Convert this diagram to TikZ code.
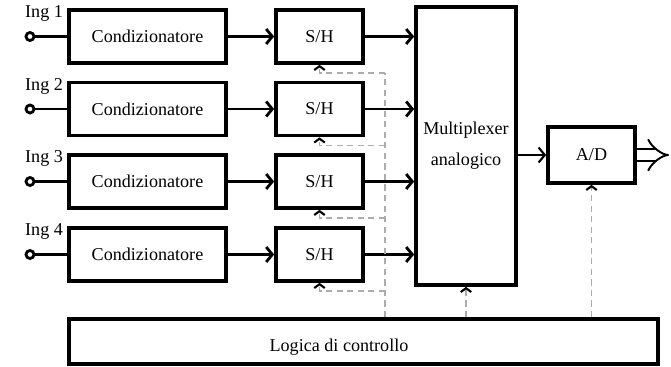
\documentclass[tikz,border=0pt]{standalone}
\usepackage{fontspec}
\setmainfont{Liberation Serif}
\usetikzlibrary{positioning,arrows.meta}

\begin{document}
\begin{tikzpicture}[
    >={Straight Barb[length=3.5pt,width=8.5pt]},
    every node/.style={font=\fontsize{10.3}{12}\selectfont},
    blk/.style={draw, line width=2.1pt, inner sep=0pt},
    cond/.style={blk, minimum width=3.14cm, minimum height=1.06cm},
    sh/.style={blk, minimum width=1.74cm, minimum height=1.06cm},
    sig/.style={->, line width=1.6pt},
    ctrl/.style={gray!65, line width=0.7pt, dash pattern=on 3.5pt off 2.5pt},
    ctrlarrow/.style={ctrl, -{Straight Barb[length=2.2pt,width=6pt,line width=1.2pt,black]}},
    pin/.style={circle, draw, line width=1.6pt, minimum size=0.16cm, inner sep=0pt}
]
\useasboundingbox (0,0) rectangle (13.42,7.32);

% row 1
\node[cond] (c1) at (2.95,6.59) {Condizionatore};
\node[sh] (s1) at (6.39,6.59) {S/H};
\node[pin] (p1) at (0.6,6.59) {};
\node[anchor=west] (l1) at (0.38,7.05) {Ing 1};
\draw[line width=1.6pt] (p1) -- (c1);
\draw[sig] (c1) -- (s1);

% row 2
\node[cond] (c2) at (2.95,5.14) {Condizionatore};
\node[sh] (s2) at (6.39,5.14) {S/H};
\node[pin] (p2) at (0.6,5.14) {};
\node[anchor=west] (l2) at (0.38,5.60) {Ing 2};
\draw[line width=1.6pt] (p2) -- (c2);
\draw[sig] (c2) -- (s2);

% row 3
\node[cond] (c3) at (2.95,3.69) {Condizionatore};
\node[sh] (s3) at (6.39,3.69) {S/H};
\node[pin] (p3) at (0.6,3.69) {};
\node[anchor=west] (l3) at (0.38,4.15) {Ing 3};
\draw[line width=1.6pt] (p3) -- (c3);
\draw[sig] (c3) -- (s3);

% row 4
\node[cond] (c4) at (2.95,2.23) {Condizionatore};
\node[sh] (s4) at (6.39,2.23) {S/H};
\node[pin] (p4) at (0.6,2.23) {};
\node[anchor=west] (l4) at (0.38,2.69) {Ing 4};
\draw[line width=1.6pt] (p4) -- (c4);
\draw[sig] (c4) -- (s4);

% multiplexer and converter
\node[blk, minimum width=2cm, minimum height=5.56cm, align=center,
      font=\fontsize{10.3}{17.6}\selectfont] (mux) at (9.32,4.4) {Multiplexer\\analogico};
\draw[sig] (s1) -- (s1 -| mux.west);
\draw[sig] (s2) -- (s2 -| mux.west);
\draw[sig] (s3) -- (s3 -| mux.west);
\draw[sig] (s4) -- (s4 -| mux.west);

\node[blk, minimum width=1.74cm, minimum height=1.12cm] (ad) at (11.83,4.22) {A/D};
\draw[->, line width=1.2pt] (mux.east |- ad) -- (ad);
\coordinate (out) at (13.38,4.22);
\draw[double, line width=1.1pt, double distance=5.5pt,
      -{Implies[length=7pt,width=16pt]}] (ad) -- (out);

% control logic
\node[blk, minimum width=11.78cm, minimum height=0.9cm] (logic) at (7.27,0.49) {};
\node (lt) at (6.78,0.38) {Logica di controllo};

\coordinate (k1) at (7.7,5.86);
\coordinate (k2) at (7.7,4.41);
\coordinate (k3) at (7.7,2.96);
\coordinate (k4) at (7.7,1.50);
\draw[ctrl] (logic.north -| k1) -- (k1);
\draw[ctrlarrow] (k1) -| (s1.south);
\draw[ctrlarrow] (k2) -| (s2.south);
\draw[ctrlarrow] (k3) -| (s3.south);
\draw[ctrlarrow] (k4) -| (s4.south);
\draw[ctrlarrow] (mux.south |- logic.north) -- (mux.south);
\draw[ctrlarrow] (ad.south |- logic.north) -- (ad.south);

\end{tikzpicture}
\end{document}
